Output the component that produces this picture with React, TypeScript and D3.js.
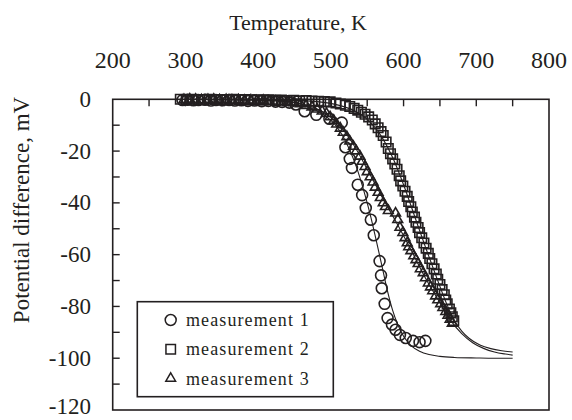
import * as d3 from 'd3'

// temperature (K) and potential (mV)
const m1T = [296, 303, 311, 318, 327, 335, 342, 351, 360, 368, 377, 386, 395, 405, 414, 424, 433, 443, 452, 464, 480, 498, 515, 520, 526, 529, 537, 543, 548, 555, 559, 567, 569, 570, 574, 578, 584, 589, 595, 603, 613, 622, 630]
const m1V = [-0.3, -0.2, -0.4, -0.3, -0.2, -0.5, -0.3, -0.4, -0.3, -0.5, -0.4, -0.6, -0.5, -0.7, -0.6, -0.9, -1.0, -1.3, -2.0, -4.6, -6.0, -7.5, -9.0, -18.5, -23.0, -26.5, -33.0, -37.0, -42.0, -46.5, -52.5, -62.5, -68.0, -73.0, -79.0, -84.5, -87.0, -89.0, -91.0, -92.2, -93.3, -93.8, -93.3]

const m2T = [293, 301, 309, 317, 325, 333, 341, 349, 357, 366, 374, 382, 390, 399, 407, 415, 424, 432, 440, 449, 457, 466, 474, 483, 491, 499, 507, 513, 520, 526, 532, 537, 542, 547, 552, 557, 561, 565, 569, 572, 576, 579, 582, 585, 588, 591, 594, 596, 599, 602, 605, 607, 610, 612, 615, 617, 620, 622, 625, 628, 631, 634, 636, 639, 642, 645, 647, 650, 653, 656, 658, 660, 663, 665, 667, 669]
const m2V = [0.0, -0.2, 0.0, -0.1, -0.2, 0.0, -0.1, -0.2, -0.1, 0.0, -0.2, -0.1, -0.3, -0.2, -0.3, -0.2, -0.4, -0.3, -0.5, -0.4, -0.6, -0.5, -0.7, -0.8, -0.9, -1.0, -1.4, -1.8, -2.3, -2.8, -3.5, -4.2, -5.0, -5.8, -6.8, -8.0, -9.5, -11.0, -12.5, -14.0, -16.5, -19.0, -21.0, -23.0, -25.0, -27.0, -29.5, -31.5, -33.5, -35.5, -37.5, -39.5, -41.5, -43.5, -45.5, -47.5, -49.5, -51.5, -53.5, -55.5, -57.5, -59.5, -61.5, -63.5, -65.5, -67.5, -69.5, -71.5, -73.5, -75.5, -77.5, -79.0, -81.0, -82.5, -84.0, -85.5]

const m3T = [298, 306, 314, 322, 331, 339, 347, 356, 364, 373, 381, 390, 398, 407, 415, 424, 432, 441, 449, 458, 466, 474, 481, 488, 494, 499, 504, 508, 513, 517, 522, 526, 531, 535, 540, 543, 547, 550, 554, 558, 561, 565, 568, 572, 575, 579, 589, 592, 595, 599, 602, 605, 607, 610, 614, 617, 620, 623, 627, 630, 634, 637, 640, 644, 647, 651, 654, 658, 661, 664, 667]
const m3V = [-0.2, 0.0, -0.1, -0.3, -0.2, -0.1, -0.3, -0.2, -0.4, -0.3, -0.5, -0.4, -0.6, -0.5, -0.8, -0.7, -1.0, -1.1, -1.4, -1.8, -2.4, -3.0, -3.8, -4.6, -5.5, -6.8, -8.2, -9.6, -11.2, -12.8, -14.5, -16.2, -18.2, -20.0, -22.0, -24.0, -26.0, -28.0, -30.0, -32.0, -34.0, -36.0, -38.0, -40.0, -41.5, -43.0, -44.0, -46.5, -49.5, -51.5, -53.5, -55.5, -57.0, -58.5, -60.5, -62.0, -63.5, -65.5, -67.0, -69.0, -71.0, -72.5, -74.0, -76.0, -77.5, -79.0, -80.5, -82.0, -83.5, -85.0, -86.5]

// fitted curves
const fit1T = [300, 420, 450, 470, 490, 505, 515, 525, 535, 545, 555, 562, 570, 577, 585, 592, 600, 610, 622, 635, 650, 670, 700, 725, 750]
const fit1V = [0, -0.3, -1.2, -3.0, -6.0, -9.5, -13.5, -19.0, -26.0, -35.0, -45.5, -54.0, -64.0, -73.0, -81.5, -87.0, -91.5, -95.0, -97.3, -98.6, -99.3, -99.7, -99.9, -100, -100]
const fit2T = [300, 450, 490, 515, 535, 555, 570, 585, 600, 615, 630, 645, 660, 670, 680, 690, 705, 720, 735, 750]
const fit2V = [0, -0.4, -1.2, -2.6, -4.8, -9.0, -14.5, -22.5, -33.0, -45.0, -57.0, -68.5, -79.5, -85.5, -89.5, -92.3, -94.9, -96.3, -97.1, -97.6]
const fit3T = [300, 420, 450, 470, 490, 510, 530, 550, 570, 590, 610, 630, 650, 665, 680, 695, 710, 725, 740, 750]
const fit3V = [0, -0.5, -1.3, -2.6, -5.0, -9.5, -17.0, -27.0, -37.5, -47.5, -58.0, -69.0, -78.5, -85.5, -90.5, -94.0, -96.2, -97.6, -98.4, -98.8]

const xTicks = [200, 300, 400, 500, 600, 700, 800]
const xMinor = [250, 300, 350, 400, 450, 500, 550, 600, 650, 700, 750]
const yTicks = [0, -20, -40, -60, -80, -100, -120]
const yMinor = [-10, -20, -30, -40, -50, -60, -70, -80, -90, -100, -110]
const legendLabels = ['measurement 1', 'measurement 2', 'measurement 3']

const W = 572
const H = 420
const left = 112.7
const right = 549
const top = 99.3
const bottom = 410
const ink = '#231f20'
const font = '"Liberation Serif", "Times New Roman", serif'

const x = d3.scaleLinear().domain([200, 800]).range([left, right])
const y = d3.scaleLinear().domain([-120, 0]).range([bottom, top])

const symCircle = d3.symbol().type(d3.symbolCircle).size(Math.PI * 30)()
const symSquare = d3.symbol().type(d3.symbolSquare).size(90)()
const symTriangle = d3.symbol().type(d3.symbolTriangle2).size(68)()

const line = d3
  .line<[number, number]>()
  .x((d) => x(d[0]))
  .y((d) => y(d[1]))
  .curve(d3.curveMonotoneX)

const zip = (a: number[], b: number[]) => a.map((v, i) => [v, b[i]] as [number, number])

const series = [
  { t: m1T, v: m1V, sym: symCircle },
  { t: m2T, v: m2V, sym: symSquare },
  { t: m3T, v: m3V, sym: symTriangle },
]
const fits = [zip(fit1T, fit1V), zip(fit2T, fit2V), zip(fit3T, fit3V)]

export default function App() {
  return (
    <div style={{ position: 'fixed', left: 0, top: 0 }}>
      <svg width={W} height={H} style={{ display: 'block', background: '#fff' }} fontFamily={font}>
        <text x={298} y={30} textAnchor="middle" fontSize={22} fill={ink}>
          Temperature, K
        </text>
        {xTicks.map((t) => (
          <text key={t} x={x(t)} y={68} textAnchor="middle" fontSize={24} fill={ink}>
            {t}
          </text>
        ))}
        <text
          transform={`translate(29,${210}) rotate(-90)`}
          textAnchor="middle"
          fontSize={23}
          fill={ink}
        >
          Potential difference, mV
        </text>
        {yTicks.map((t) => (
          <text
            key={t}
            x={91}
            y={Math.min(y(t) + 7.6, 414)}
            textAnchor="end"
            fontSize={23}
            fill={ink}
          >
            {t}
          </text>
        ))}

        {fits.map((pts, i) => (
          <path key={i} d={line(pts) || ''} fill="none" stroke={ink} strokeWidth={1.1} />
        ))}

        {series.map((s, si) => (
          <g key={si} fill="none" stroke={ink} strokeWidth={1.6}>
            {s.t.map((t, i) => (
              <path key={i} d={s.sym || ''} transform={`translate(${x(t)},${y(s.v[i])})`} />
            ))}
          </g>
        ))}

        <rect x={left} y={top} width={right - left} height={bottom - top} fill="none" stroke={ink} strokeWidth={1.6} />
        {xMinor.map((t) => (
          <line key={t} x1={x(t)} x2={x(t)} y1={top} y2={top + 7} stroke={ink} strokeWidth={1.4} />
        ))}
        {yMinor.map((t) => (
          <line key={t} x1={left} x2={left + 7} y1={y(t)} y2={y(t)} stroke={ink} strokeWidth={1.4} />
        ))}

        <rect x={137.3} y={301.7} width={196} height={95} fill="#fff" stroke={ink} strokeWidth={1.6} />
        {legendLabels.map((lab, i) => (
          <g key={lab} transform={`translate(0,${320 + i * 29.2})`}>
            <path
              d={[symCircle, symSquare, symTriangle][i] || ''}
              transform="translate(170.7,0)"
              fill="none"
              stroke={ink}
              strokeWidth={1.5}
            />
            <text x={186} y={0} dy="0.34em" fontSize={18} letterSpacing={1.1} fill={ink}>
              {lab}
            </text>
          </g>
        ))}
      </svg>
    </div>
  )
}
